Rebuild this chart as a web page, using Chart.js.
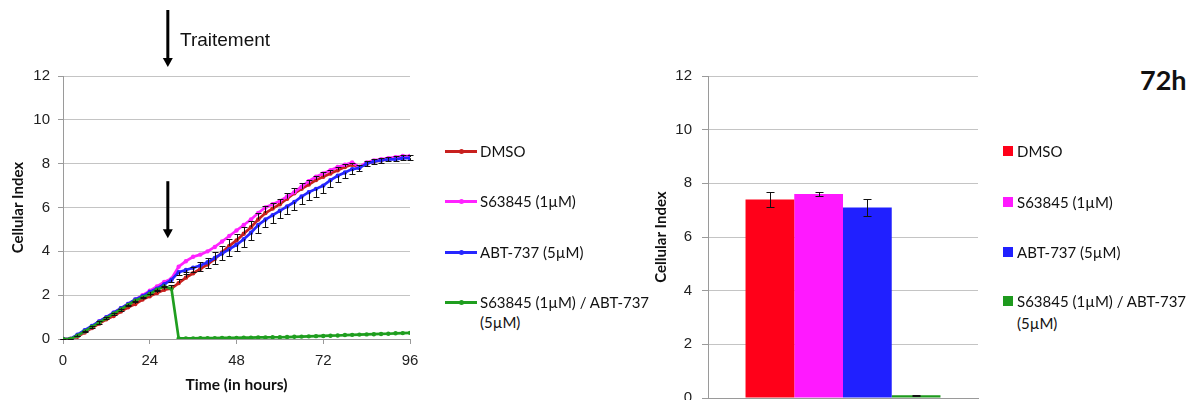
<!DOCTYPE html>
<html><head><meta charset="utf-8">
<script src="https://cdn.jsdelivr.net/npm/chart.js@4.4.0/dist/chart.umd.min.js"></script>
<style>
body{margin:0;width:1196px;height:400px;background:#fff;overflow:hidden;position:relative;font-family:Lato,sans-serif;}
canvas{position:absolute;top:0;}
#c1{left:0;}
#c2{left:640px;}
.t{position:absolute;white-space:nowrap;color:#111;}
.lg{font:15px Lato,sans-serif;line-height:20px;height:20px;}
.ln{position:absolute;height:2.5px;width:32px;}
.ln i{position:absolute;left:14px;top:-1.5px;width:5px;height:5px;border-radius:50%;}
.sq{position:absolute;width:10px;height:10px;}
</style>
</head><body>
<canvas id="c1" width="430" height="400"></canvas>
<canvas id="c2" width="350" height="417"></canvas>
<div class="t" style="left:180px;top:28px;font:19px 'Liberation Sans',Arial,sans-serif;line-height:24px;">Traitement</div>
<div class="t" style="left:1140px;top:63px;font:bold 27px Lato,sans-serif;line-height:34px;">72h</div>
<div id="leg"></div>
<script>
// ---------- data ----------
const hours = [0,2,4,6,8,10,12,14,16,18,20,22,24,26,28,30,32,34,36,38,40,42,44,46,48,50,52,54,56,58,60,62,64,66,68,70,72,74,76,78,80,82,84,86,88,90,92,94,96];
const seriesNames = ['DMSO','S63845 (1µM)','ABT-737 (5µM)','S63845 (1µM) / ABT-737 (5µM)'];
const dmso = [0,0,0.1,0.3,0.5,0.7,0.9,1.05,1.25,1.45,1.6,1.8,1.95,2.1,2.25,2.3,2.55,2.8,3.0,3.2,3.4,3.65,3.95,4.25,4.5,4.8,5.1,5.45,5.75,5.95,6.15,6.4,6.65,6.85,7.05,7.25,7.4,7.55,7.7,7.85,7.95,7.85,8.0,8.1,8.15,8.2,8.25,8.3,8.3];
const s63845 = [0,0,0.15,0.35,0.55,0.8,1.0,1.2,1.4,1.6,1.8,2.0,2.2,2.4,2.6,2.75,3.3,3.55,3.75,3.85,4.0,4.2,4.45,4.7,4.95,5.2,5.45,5.75,6.0,6.15,6.3,6.5,6.7,6.95,7.2,7.4,7.55,7.7,7.85,7.95,8.05,7.85,8.05,8.15,8.2,8.25,8.3,8.35,8.35];
const abt737 = [0,0,0.2,0.4,0.6,0.8,1.0,1.2,1.4,1.6,1.8,1.95,2.15,2.3,2.5,2.7,3.05,3.15,3.25,3.35,3.5,3.7,3.9,4.1,4.3,4.55,4.85,5.2,5.45,5.65,5.85,6.05,6.25,6.5,6.7,6.85,7.0,7.25,7.45,7.6,7.75,7.8,8.0,8.1,8.15,8.2,8.2,8.25,8.25];
const combo = [0,0,0.15,0.35,0.55,0.75,0.95,1.15,1.35,1.55,1.75,1.9,2.05,2.25,2.4,2.3,0.03,0.03,0.03,0.04,0.04,0.04,0.05,0.05,0.05,0.06,0.06,0.07,0.07,0.08,0.08,0.09,0.1,0.11,0.12,0.13,0.14,0.15,0.16,0.18,0.19,0.2,0.21,0.22,0.23,0.24,0.26,0.27,0.28];
const dmsoErrUp = [0.02,0.02,0.05,0.08,0.1,0.1,0.1,0.12,0.12,0.12,0.12,0.12,0.12,0.12,0.12,0.15,0.2,0.25,0.3,0.3,0.3,0.3,0.3,0.3,0.3,0.3,0.3,0.3,0.3,0.25,0.25,0.25,0.25,0.25,0.2,0.2,0.2,0.15,0.15,0.15,0.1,0.1,0.1,0.1,0.1,0.1,0.1,0.08,0.08];
const abtErrDown = [0.02,0.02,0.05,0.08,0.1,0.1,0.1,0.1,0.1,0.1,0.1,0.1,0.1,0.1,0.1,0.1,0.15,0.2,0.2,0.25,0.25,0.3,0.3,0.3,0.3,0.35,0.35,0.35,0.35,0.35,0.35,0.35,0.35,0.35,0.35,0.35,0.35,0.3,0.3,0.25,0.2,0.15,0.1,0.1,0.1,0.1,0.1,0.1,0.1];
const xTicks = [0,24,48,72,96];
const yTicks = [0,2,4,6,8,10,12];
// 72h bars
const bar72 = [7.4,7.6,7.1,0.1];
const bar72Err = [0.28,0.07,0.33,0.02];
const treatmentHour = 29;
const arrowTop = [12.0, 7.2];   // arrow 2 inside the plot (in y units)
const lineColors = ['#c8201e','#ff22ff','#2626ff','#1f9e1f'];
const barColors = ['#ff0019','#ff19ff','#2020ff','#1e9a1e'];

const TF = "'Liberation Sans', Arial, sans-serif";
const gridC = '#c4c4c4', axisC = '#9a9a9a';

function pts(arr){ return hours.map((h,i)=>({x:h,y:arr[i]})); }

const lineErr = {
  id:'lineErr',
  afterDatasetsDraw(chart){
    const ctx = chart.ctx, xs = chart.scales.x, ys = chart.scales.y;
    ctx.save(); ctx.strokeStyle='#111'; ctx.lineWidth=1;
    const sets = [[dmso,dmsoErrUp,1],[abt737,abtErrDown,-1]];
    sets.forEach(([vals,err,dir])=>{
      hours.forEach((h,i)=>{
        if(!err[i]) return;
        const x = Math.round(xs.getPixelForValue(h))+0.5;
        const y0 = ys.getPixelForValue(vals[i]);
        const y1 = Math.round(ys.getPixelForValue(vals[i]+dir*err[i]))+0.5;
        ctx.beginPath(); ctx.moveTo(x,y0); ctx.lineTo(x,y1);
        ctx.moveTo(x-3,y1); ctx.lineTo(x+3,y1); ctx.stroke();
      });
    });
    // treatment arrows
    ctx.fillStyle='#000'; ctx.strokeStyle='#000'; ctx.lineWidth=3;
    const ax = xs.getPixelForValue(treatmentHour);
    const drawArrow=(top,tip)=>{
      ctx.beginPath(); ctx.moveTo(ax,top); ctx.lineTo(ax,tip-7); ctx.stroke();
      ctx.beginPath(); ctx.moveTo(ax-5,tip-9); ctx.lineTo(ax+5,tip-9); ctx.lineTo(ax,tip); ctx.closePath(); ctx.fill();
    };
    drawArrow(10, 67);
    drawArrow(ys.getPixelForValue(arrowTop[1]), ys.getPixelForValue(arrowTop[1]-2.6));
    ctx.restore();
  }
};

new Chart(document.getElementById('c1'),{
  type:'line',
  data:{datasets: [dmso,s63845,abt737,combo].map((a,i)=>({
    label:seriesNames[i], data:pts(a), borderColor:lineColors[i], backgroundColor:lineColors[i],
    borderWidth:2.7, pointRadius:2.2, pointBorderWidth:0, pointHoverRadius:2, tension:0, order:4-i
  }))},
  options:{
    responsive:false, animation:false, events:[],
    layout:{padding:{top:76,right:20,left:0,bottom:0}},
    plugins:{legend:{display:false},tooltip:{enabled:false}},
    scales:{
      x:{type:'linear',min:0,max:96,
        afterBuildTicks(s){ s.ticks = xTicks.map(v=>({value:v})); },
        afterFit(s){ s.height = 61; },
        grid:{drawOnChartArea:false,drawTicks:true,tickLength:5,color:axisC},
        border:{color:axisC},
        ticks:{font:{family:TF,size:15},color:'#222',padding:8,maxRotation:0},
        title:{display:true,text:'Time (in hours)',font:{family:'Lato',size:15.5,weight:'bold'},color:'#111',padding:{top:0,bottom:6}}
      },
      y:{min:0,max:12,
        afterBuildTicks(s){ s.ticks = yTicks.map(v=>({value:v})); },
        afterFit(s){ s.width = 63; },
        grid:{color:gridC,tickLength:5,tickColor:axisC},
        border:{color:axisC},
        ticks:{font:{family:TF,size:15},color:'#222',padding:8},
        title:{display:true,text:'Cellular Index',font:{family:'Lato',size:15,weight:'bold'},color:'#111',padding:{top:9,bottom:0}}
      }
    }
  },
  plugins:[lineErr]
});

const barErr = {
  id:'barErr',
  afterDatasetsDraw(chart){
    const ctx=chart.ctx, ys=chart.scales.y;
    ctx.save(); ctx.strokeStyle='#111'; ctx.lineWidth=1;
    chart.data.datasets.forEach((ds,i)=>{
      const el = chart.getDatasetMeta(i).data[0];
      const x = Math.round(el.x)+0.5, v = bar72[i], e = bar72Err[i];
      const yt = Math.round(ys.getPixelForValue(v+e))+0.5, yb = Math.round(ys.getPixelForValue(v-e))+0.5;
      ctx.beginPath(); ctx.moveTo(x,yt); ctx.lineTo(x,yb);
      ctx.moveTo(x-4,yt); ctx.lineTo(x+4,yt); ctx.moveTo(x-4,yb); ctx.lineTo(x+4,yb); ctx.stroke();
    });
    ctx.restore();
  }
};

new Chart(document.getElementById('c2'),{
  type:'bar',
  data:{labels:['72h'], datasets: bar72.map((v,i)=>({label:seriesNames[i],data:[v],backgroundColor:barColors[i],borderWidth:0}))},
  options:{
    responsive:false, animation:false, events:[],
    layout:{padding:{top:76,right:12,left:0,bottom:0}},
    plugins:{legend:{display:false},tooltip:{enabled:false}},
    datasets:{bar:{barPercentage:1,categoryPercentage:0.722}},
    scales:{
      x:{ticks:{display:false},grid:{display:false},border:{color:axisC},afterFit(s){ s.height = 3; }},
      y:{min:0,max:12,
        afterBuildTicks(s){ s.ticks = yTicks.map(v=>({value:v})); },
        afterFit(s){ s.width = 68; },
        grid:{color:gridC,tickLength:6,tickColor:axisC},
        border:{color:axisC},
        ticks:{font:{family:TF,size:15},color:'#222',padding:10},
        title:{display:true,text:'Cellular Index',font:{family:'Lato',size:15,weight:'bold'},color:'#111',padding:{top:12,bottom:0}}
      }
    }
  },
  plugins:[barErr]
});

// HTML legends
const leg = document.getElementById('leg');
const lyL = [151,201,252,302], lyR = [151,202,252,301];
function addText(x,y,txt){ const d=document.createElement('div'); d.className='t lg'; d.style.left=x+'px'; d.style.top=(y-10)+'px'; d.textContent=txt; leg.appendChild(d); }
seriesNames.forEach((n,i)=>{
  const l=document.createElement('div'); l.className='ln'; l.style.left='445px'; l.style.top=(lyL[i]-1)+'px'; l.style.background=lineColors[i];
  const m=document.createElement('i'); m.style.background=lineColors[i]; l.appendChild(m); leg.appendChild(l);
  const s=document.createElement('div'); s.className='sq'; s.style.left='1003px'; s.style.top=(lyR[i]-5)+'px'; s.style.background=barColors[i]; leg.appendChild(s);
  if(i<3){ addText(480,lyL[i],n); addText(1017,lyR[i],n); }
  else { addText(480,lyL[i],'S63845 (1µM) / ABT-737'); addText(480,lyL[i]+20,'(5µM)'); addText(1017,lyR[i],'S63845 (1µM) / ABT-737'); addText(1017,lyR[i]+22,'(5µM)'); }
});
</script>
</body></html>
